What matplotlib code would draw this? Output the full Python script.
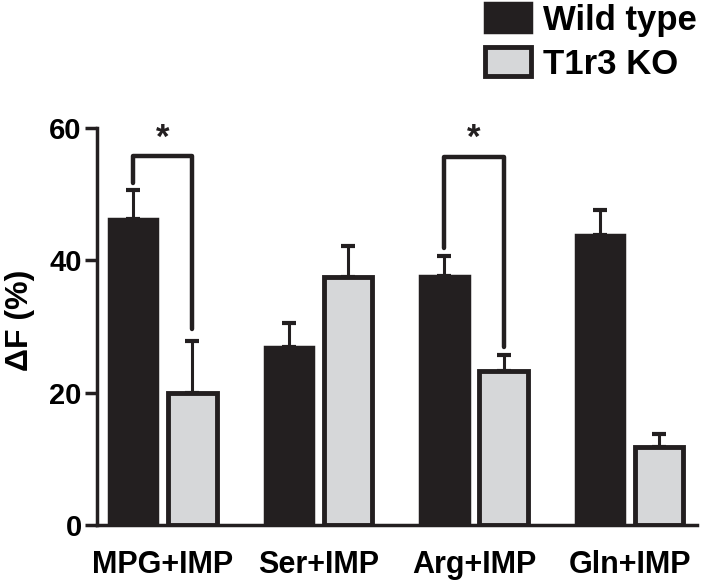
import matplotlib
matplotlib.use("Agg")
import matplotlib.pyplot as plt
import numpy as np

categories = ["MPG+IMP", "Ser+IMP", "Arg+IMP", "Gln+IMP"]
series_names = ["Wild type", "T1r3 KO"]
wt_values = [46.3, 26.9, 37.7, 43.9]
wt_err = [4.3, 3.7, 2.9, 3.7]
ko_values = [20.0, 37.5, 23.3, 11.8]
ko_err = [7.8, 4.7, 2.4, 1.9]
yticks = [0, 20, 40, 60]

# significance brackets: (group index, left leg bottom, right leg bottom, top)
sig_groups = [0, 2]
sig_left_bottom = [51.7, 41.8]
sig_right_bottom = [29.6, 26.9]
sig_top = [55.8, 55.6]
sig_star_y = 58.4

plt.rcParams['font.family'] = ['Liberation Sans', 'DejaVu Sans']
plt.rcParams['font.weight'] = 'bold'

dark = '#231f20'
light = '#d6d7d9'

fig = plt.figure(figsize=(7.05, 5.88), dpi=100)
ax = fig.add_axes([97/705, 1-525/588, (697-97)/705, (525-128)/588])

x = np.arange(len(categories))
off = 0.19
w = 0.31
ax.bar(x - off, wt_values, w, color=dark, edgecolor=dark, linewidth=2.5,
       label=series_names[0], zorder=2)
ax.bar(x + off, ko_values, w, color=light, edgecolor=dark, linewidth=3.5,
       label=series_names[1], zorder=2)
ax.errorbar(x - off, wt_values, yerr=[np.zeros(len(wt_err)), wt_err], fmt='none',
            ecolor=dark, elinewidth=2.2, capsize=5, capthick=3, zorder=1)
ax.errorbar(x + off, ko_values, yerr=[np.zeros(len(ko_err)), ko_err], fmt='none',
            ecolor=dark, elinewidth=2.2, capsize=5, capthick=3, zorder=1)

for g, lb, rb, top in zip(sig_groups, sig_left_bottom, sig_right_bottom, sig_top):
    xl, xr = x[g] - off, x[g] + off
    ax.plot([xl, xl, xr, xr], [lb, top, top, rb], color=dark, lw=3.2,
            solid_capstyle='round', solid_joinstyle='round', zorder=3)
    ax.text(x[g], sig_star_y, '*', ha='center', va='center', fontsize=25,
            fontweight='bold', color=dark)

ax.set_xlim(-0.424, 3.434)
ax.set_ylim(0, 60)
ax.set_yticks(yticks)
ax.set_xticks(x)
ax.set_xticklabels(categories, fontsize=22, fontweight='bold')
ax.tick_params(axis='y', length=9, width=2.5, labelsize=21, pad=2, color=dark)
ax.tick_params(axis='x', length=0, pad=18)
for lab in ax.get_yticklabels():
    lab.set_fontweight('bold')
ax.set_ylabel('ΔF (%)', fontsize=23, fontweight='bold')
ax.yaxis.set_label_coords(-0.104, 0.516)
for s in ['top', 'right']:
    ax.spines[s].set_visible(False)
for s in ['left', 'bottom']:
    ax.spines[s].set_linewidth(2.5)
    ax.spines[s].set_color(dark)

leg = ax.legend(loc='upper right', bbox_to_anchor=(700/705, 1.0),
                bbox_transform=fig.transFigure, frameon=False, fontsize=25,
                handlelength=1.3, handleheight=0.9, handletextpad=0.35,
                labelspacing=0.3, borderpad=0.1, borderaxespad=0)
for t in leg.get_texts():
    t.set_fontweight('bold')

fig.savefig('out.png', dpi=100)
